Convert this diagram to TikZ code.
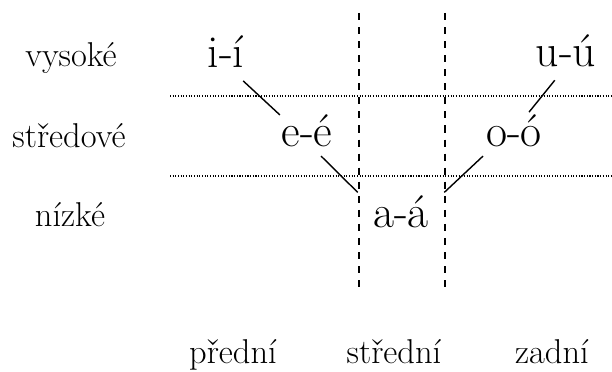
\documentclass[tikz,border=0pt]{standalone}
\usepackage{fontspec}
\usepackage{tikz}
\begin{document}
\begin{tikzpicture}[
  x=0.025cm, y=-0.025cm,
  level/.style={anchor=base, inner sep=0pt, font=\fontsize{24.5}{29}\selectfont},
  vowel/.style={anchor=base, inner sep=0pt, font=\fontsize{32.5}{38}\selectfont},
  link/.style={line width=1pt},
  colline/.style={line width=1pt, dash pattern=on 5pt off 5pt},
  rowline/.style={line width=0.75pt, dash pattern=on 0.75pt off 1.15pt},
]
  \useasboundingbox (0,0) rectangle (612,372);

  % grid
  \draw[rowline] (170,96) -- (612,96);
  \draw[rowline] (170,176) -- (612,176);
  \draw[colline] (359,13) -- (359,288);
  \draw[colline] (445,13) -- (445,288);

  % row and column labels
  \node[level] (high) at (71,67) {vysoké};
  \node[level] (mid) at (69,148) {středové};
  \node[level] (low) at (70,227) {nízké};
  \node[level] (front) at (233,364) {přední};
  \node[level] (central) at (394,364) {střední};
  \node[level] (back) at (552,364) {zadní};

  % vowels
  \node[vowel] (i) at (226,68) {i-í};
  \node[vowel] (u) at (566,67) {u-ú};
  \node[vowel] (e) at (307,147) {e-é};
  \node[vowel] (o) at (514,147) {o-ó};
  \node[vowel, minimum width=2.15cm, inner ysep=2.5pt] (a) at (401,228) {a-á};

  \draw[link] ([xshift=-1pt,yshift=-9pt]i.south east) -- ([xshift=-1pt]e.north west);
  \draw[link] ([xshift=-8pt,yshift=-9pt]u.south) -- ([xshift=10.7pt,yshift=2pt]o.north);
  \draw[link] ([xshift=10pt,yshift=-6pt]e.south) -- (a.north west);
  \draw[link] ([xshift=-2pt,yshift=-6pt]o.south west) -- (a.north east);
\end{tikzpicture}
\end{document}
